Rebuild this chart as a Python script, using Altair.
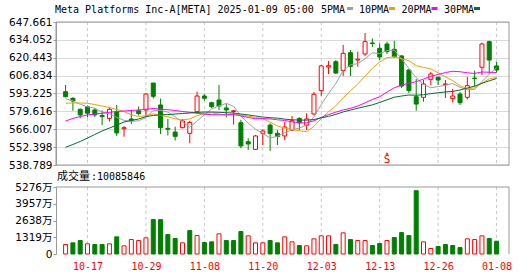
import altair as alt
import pandas as pd

# ---------------- data ----------------
dates = ["10-14", "10-15", "10-16", "10-17", "10-18", "10-21", "10-22", "10-23", "10-24", "10-25",
         "10-28", "10-29", "10-30", "10-31", "11-01", "11-04", "11-05", "11-06", "11-07", "11-08",
         "11-11", "11-12", "11-13", "11-14", "11-15", "11-18", "11-19", "11-20", "11-21", "11-22",
         "11-25", "11-26", "11-27", "11-29", "12-02", "12-03", "12-04", "12-05", "12-06", "12-09",
         "12-10", "12-11", "12-12", "12-13", "12-16", "12-17", "12-18", "12-19", "12-20", "12-23",
         "12-24", "12-26", "12-27", "12-30", "12-31", "01-02", "01-03", "01-06", "01-07", "01-08"]

opens = [594.6, 589.6, 581.2, 583.2, 580.7, 576.5, 574.3, 579.4, 566.4, 573.8,
         580.1, 580.7, 601.2, 584.5, 566.7, 563.9, 567.2, 562.9, 579.4, 591.3,
         586.2, 588.3, 582.2, 579.5, 571.0, 556.5, 550.7, 562.9, 569.2, 562.9,
         560.9, 565.4, 574.3, 569.2, 577.6, 595.4, 613.4, 617.4, 610.7, 624.3,
         618.7, 623.3, 631.7, 627.6, 630.9, 626.9, 621.8, 611.1, 590.8, 590.3,
         604.0, 605.6, 600.1, 589.3, 592.8, 590.3, 605.0, 613.2, 632.7, 614.2]
highs = [599.7, 590.3, 581.8, 584.1, 581.7, 580.3, 582.7, 584.5, 568.5, 580.7,
         583.3, 593.4, 601.2, 589.4, 573.8, 567.9, 573.8, 572.5, 594.6, 592.8,
         587.0, 599.7, 585.2, 580.4, 573.1, 559.1, 561.6, 566.0, 570.5, 565.4,
         571.5, 576.1, 575.1, 578.2, 594.4, 614.9, 618.0, 618.7, 630.2, 626.3,
         625.1, 639.3, 635.1, 631.4, 632.7, 633.4, 622.5, 611.9, 604.3, 603.5,
         609.6, 606.0, 603.5, 596.7, 594.4, 605.8, 610.6, 631.9, 633.4, 617.4]
lows = [590.2, 580.1, 574.3, 575.0, 575.3, 569.2, 571.8, 560.9, 560.3, 570.0,
        576.5, 575.7, 589.4, 562.4, 561.3, 557.4, 566.7, 555.3, 578.2, 587.7,
        582.0, 580.7, 575.0, 569.6, 551.5, 550.2, 550.2, 554.0, 549.5, 554.0,
        557.8, 564.7, 565.4, 565.4, 576.9, 591.5, 608.1, 608.1, 606.5, 606.5,
        613.6, 621.8, 628.6, 618.7, 623.3, 620.3, 597.4, 593.6, 580.1, 587.0,
        599.7, 599.7, 589.8, 586.4, 584.5, 588.7, 598.6, 607.3, 608.1, 609.2]
closes = [590.8, 587.5, 576.9, 578.2, 576.9, 575.6, 581.2, 563.2, 567.2, 572.8,
          577.9, 592.8, 591.1, 567.2, 566.0, 560.6, 572.3, 571.2, 591.3, 589.6,
          583.2, 583.7, 580.7, 580.1, 553.3, 554.8, 560.9, 564.7, 562.8, 560.5,
          567.7, 572.5, 571.0, 573.8, 592.6, 614.2, 614.4, 608.8, 623.8, 613.9,
          619.3, 632.7, 631.3, 621.0, 625.1, 621.2, 598.9, 595.4, 585.2, 600.5,
          608.1, 603.5, 600.5, 591.3, 586.2, 599.2, 604.6, 630.9, 618.7, 611.1]
# volume in 万 shares
volumes = [746, 879, 1060, 800, 746, 746, 800, 1350, 644, 1138,
           1060, 1272, 2708, 2708, 1531, 1217, 879, 1845, 1452, 903,
           958, 1586, 1060, 1060, 1766, 1429, 879, 879, 1060, 879,
           1350, 958, 667, 644, 1193, 1429, 1429, 746, 1664, 1138,
           1060, 1060, 667, 824, 1060, 1295, 1688, 1452, 4985, 958,
           432, 589, 746, 667, 510, 1193, 1138, 1429, 1217, 1008.5846]

ma5 = [589.2, 587.6, 585.0, 583.0, 582.1, 579.0, 577.8, 575.0, 572.8, 572.0,
       572.5, 574.8, 580.4, 580.4, 579.0, 575.5, 571.4, 567.5, 572.3, 577.0,
       581.5, 583.8, 585.7, 583.5, 576.2, 570.5, 566.0, 562.8, 559.3, 560.7,
       563.3, 565.6, 566.9, 569.1, 575.5, 584.8, 593.2, 600.8, 610.8, 615.0,
       616.0, 619.7, 624.2, 623.6, 625.9, 626.3, 619.5, 612.3, 605.2, 600.2,
       597.6, 598.5, 599.6, 600.8, 597.9, 596.1, 596.4, 602.4, 607.9, 612.9]
ma10 = [585.8, 586.0, 586.0, 585.8, 584.8, 583.7, 582.6, 581.0, 579.5, 577.0,
        575.7, 576.3, 577.7, 576.6, 575.5, 574.0, 573.1, 573.9, 576.3, 578.0,
        578.5, 577.6, 576.6, 577.9, 576.6, 576.0, 574.9, 574.2, 571.4, 568.5,
        566.9, 565.8, 564.8, 564.2, 568.1, 574.1, 579.4, 583.8, 589.9, 595.3,
        600.4, 606.5, 612.5, 617.2, 620.5, 621.2, 619.6, 618.3, 614.4, 613.1,
        611.9, 609.0, 605.9, 603.0, 599.1, 596.9, 597.5, 601.0, 604.4, 605.4]
ma20 = [572.3, 574.2, 575.7, 576.9, 577.6, 578.2, 578.9, 579.5, 579.9, 580.3,
        580.7, 581.2, 581.8, 581.4, 580.9, 580.3, 579.5, 578.9, 578.2, 577.5,
        577.1, 577.0, 577.1, 577.2, 576.1, 575.0, 574.0, 574.1, 573.9, 573.2,
        572.7, 571.7, 570.7, 571.0, 572.4, 575.1, 577.2, 579.0, 580.7, 581.9,
        583.7, 586.1, 588.7, 590.7, 594.3, 597.6, 599.5, 601.1, 602.2, 604.2,
        606.2, 607.7, 609.2, 610.1, 609.8, 609.0, 608.5, 609.6, 609.4, 609.2]
ma30 = [552.3, 554.4, 556.7, 559.3, 562.0, 564.7, 566.9, 569.2, 571.5, 572.7,
        573.8, 575.6, 576.5, 576.9, 577.2, 577.6, 578.0, 578.4, 578.8, 579.1,
        579.1, 578.9, 578.6, 578.4, 577.6, 576.9, 576.1, 575.3, 574.8, 574.5,
        573.7, 573.2, 573.0, 572.9, 573.4, 574.7, 575.8, 577.3, 579.2, 580.6,
        582.0, 583.3, 584.6, 586.4, 588.4, 590.4, 591.3, 592.1, 591.9, 592.3,
        593.1, 593.8, 594.4, 594.8, 595.9, 597.4, 598.8, 601.0, 602.9, 604.6]

price_ticks = [538.789, 552.398, 566.007, 579.616, 593.225, 606.834, 620.443, 634.052, 647.661]
vol_ticks = [0, 1319, 2638, 3957, 5276]
label_idx = [3, 11, 19, 27, 35, 43, 51, 59]
events_idx = [44]
events_txt = ["S"]

title_text = "Meta Platforms Inc-A[META] 2025-01-09 05:00"
ma_names = ["5PMA", "10PMA", "20PMA", "30PMA"]
ma_colors = ["#a0a0a0", "#f0a000", "#ff00ff", "#007030"]
vol_label = "成交量"
vol_value = ":10085846"

# ---------------- build ----------------
RED = "#ff0000"
GREEN = "#008000"
W, H = 453, 232
P_TOP, P_BOT = 0, 143
V_TOP, V_BOT = 165, 232

df = pd.DataFrame({"i": list(range(len(dates))), "date": dates, "o": opens, "h": highs,
                   "l": lows, "c": closes, "v": volumes,
                   "ma5": ma5, "ma10": ma10, "ma20": ma20, "ma30": ma30})
df["bt"] = df[["o", "c"]].max(axis=1)
df["bb"] = df[["o", "c"]].min(axis=1)
prev = df["c"].shift(1)
df["vup"] = ((df["c"] >= prev) | prev.isna()).astype(int)

one = pd.DataFrame({"k": [0]})
grid_df = pd.DataFrame({"i": label_idx})
ev_df = pd.DataFrame({"i": events_idx, "t": events_txt})

lab_arr = "[" + ",".join("'%s'" % d for d in dates) + "]"
xaxis = alt.Axis(values=label_idx, labelExpr=lab_arr + "[datum.value]", grid=False, ticks=False,
                 tickSize=0, domain=False, labelColor=RED, labelFont="DejaVu Sans Mono",
                 labelFontSize=10, labelPadding=7, labelFlush=False, title=None)
X = alt.X("i:Q", scale=alt.Scale(domain=[-0.63, 60.02], nice=False, zero=False), axis=xaxis)

pscale = alt.Scale(domain=[price_ticks[0], price_ticks[-1]], range=[P_BOT, P_TOP], nice=False, zero=False)
paxis = alt.Axis(values=price_ticks, format=".3f", title=None, labelFont="DejaVu Sans",
                 labelFontSize=10.5, labelColor="#000000", tickSize=3, tickColor="#999999",
                 domainColor="#999999", gridColor="#d9d9d9", labelPadding=1, labelFlush=False,
                 labelOverlap=False, orient="left")
vscale = alt.Scale(domain=[vol_ticks[0], vol_ticks[-1]], range=[V_BOT, V_TOP], nice=False, zero=True)
vaxis = alt.Axis(values=vol_ticks, labelExpr="datum.value == 0 ? '0' : datum.value + '万'",
                 title=None, labelFont="DejaVu Sans, Noto Sans CJK SC", labelFontSize=10.5,
                 labelColor="#000000", tickSize=3, tickColor="#999999", domainColor="#999999",
                 gridColor="#d9d9d9", labelPadding=1, labelFlush=False, labelOverlap=False,
                 orient="left")

up_cond_stroke = alt.condition(alt.datum.c > alt.datum.o, alt.value(RED), alt.value(GREEN))
up_cond_fill = alt.condition(alt.datum.c > alt.datum.o, alt.value("white"), alt.value(GREEN))

wicks = alt.Chart(df).mark_rule(strokeWidth=1).encode(
    x=X, y=alt.Y("l:Q", scale=pscale, axis=paxis), y2="h:Q", color=up_cond_stroke)
bodies = alt.Chart(df).mark_bar(size=4, strokeWidth=1, orient="vertical").encode(
    x=X, y=alt.Y("bt:Q", scale=pscale, axis=paxis), y2="bb:Q",
    fill=up_cond_fill, stroke=up_cond_stroke)
ma_layers = [
    alt.Chart(df).mark_line(color=col, strokeWidth=1).encode(
        x=X, y=alt.Y(f"{name}:Q", scale=pscale, axis=paxis))
    for name, col in zip(["ma5", "ma10", "ma20", "ma30"], ma_colors)
]
price = alt.layer(wicks, bodies, *ma_layers)

vol = alt.Chart(df).mark_bar(size=4, strokeWidth=1, orient="vertical").encode(
    x=X, y=alt.Y("v:Q", scale=vscale, axis=vaxis),
    fill=alt.condition(alt.datum.vup == 1, alt.value("white"), alt.value(GREEN)),
    stroke=alt.condition(alt.datum.vup == 1, alt.value(RED), alt.value(GREEN)))

vgrid_p = alt.Chart(grid_df).mark_rule(color="#c8c8c8", strokeDash=[3, 3], strokeWidth=1).encode(
    x=X, y=alt.value(P_TOP), y2=alt.value(P_BOT))
vgrid_v = alt.Chart(grid_df).mark_rule(color="#c8c8c8", strokeDash=[3, 3], strokeWidth=1).encode(
    x=X, y=alt.value(V_TOP), y2=alt.value(V_BOT))

border_p = alt.Chart(one).mark_rect(fillOpacity=0, stroke="#999999", strokeWidth=1).encode(
    x=alt.value(0), x2=alt.value(W), y=alt.value(P_TOP), y2=alt.value(P_BOT))
border_v_top = alt.Chart(one).mark_rule(color="#999999", strokeWidth=1).encode(
    x=alt.value(0), x2=alt.value(W), y=alt.value(V_TOP))
border_v_right = alt.Chart(one).mark_rule(color="#999999", strokeWidth=1).encode(
    x=alt.value(W), y=alt.value(V_TOP), y2=alt.value(V_BOT))

ev_text = alt.Chart(ev_df).mark_text(color=RED, fontSize=11, font="DejaVu Sans Mono",
                                     baseline="middle").encode(x=X, y=alt.value(138), text="t:N")
ev_arrow = alt.Chart(ev_df).mark_point(shape="triangle-up", filled=True, color=RED, size=10,
                                       opacity=1).encode(x=X, y=alt.value(131.5))

mono = dict(font="DejaVu Sans Mono", fontSize=10, color="#000000", align="left", baseline="middle")
title = alt.Chart(one).mark_text(text=title_text, **mono).encode(x=alt.value(-1), y=alt.value(-12.5))
leg_x = [265, 303, 345.5, 388]
sw_x = [291, 333, 375.5, 418]
legend_layers = []
for name, col, tx, sx in zip(ma_names, ma_colors, leg_x, sw_x):
    legend_layers.append(alt.Chart(one).mark_text(text=name, **mono).encode(
        x=alt.value(tx), y=alt.value(-12.5)))
    legend_layers.append(alt.Chart(one).mark_rect(color=col).encode(
        x=alt.value(sx), x2=alt.value(sx + 6), y=alt.value(-15), y2=alt.value(-12)))

vl1 = alt.Chart(one).mark_text(text=vol_label, font="Noto Sans CJK SC", fontSize=11,
                               color="#000000", align="left", baseline="middle").encode(
    x=alt.value(1), y=alt.value(155))
vl2 = alt.Chart(one).mark_text(text=vol_value, **mono).encode(x=alt.value(35), y=alt.value(155))

chart = alt.layer(
    vgrid_p, vgrid_v, price, vol, border_p, border_v_top, border_v_right,
    ev_arrow, ev_text, title, *legend_layers, vl1, vl2
).resolve_scale(y="independent").properties(
    width=W, height=H,
    autosize=alt.AutoSizeParams(type="none"),
    padding={"left": 56, "top": 22, "right": 21, "bottom": 22},
    background="white",
).configure_view(strokeWidth=0)

chart.save("out.html", embed_options={"renderer": "svg", "actions": False})
